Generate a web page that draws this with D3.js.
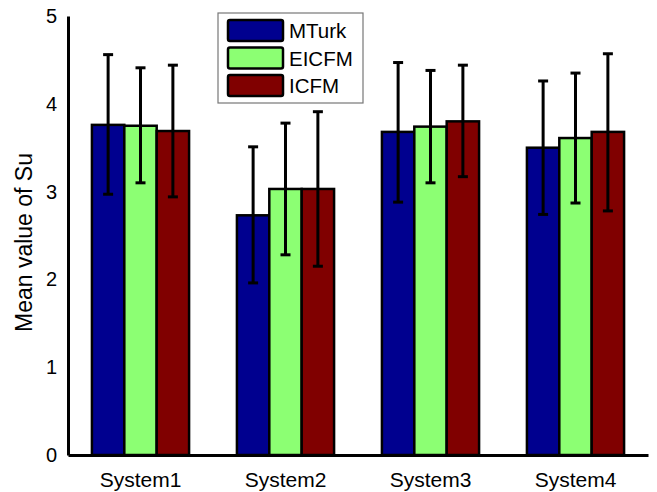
<!DOCTYPE html>
<html>
<head>
<meta charset="utf-8">
<script src="https://cdn.jsdelivr.net/npm/d3@7"></script>
<style>
  body { margin: 0; background: #fff; }
  text { font-family: "Liberation Sans", Arial, sans-serif; }
</style>
</head>
<body>
<div id="chart"></div>
<script>
// --- Data ---
const systems = ["System1", "System2", "System3", "System4"];
const seriesNames = ["MTurk", "EICFM", "ICFM"];
const seriesColors = ["#00008f", "#8cff73", "#800000"];
const mturkMean = [3.76, 2.73, 3.68, 3.50];
const mturkLow = [2.97, 1.96, 2.88, 2.74];
const mturkHigh = [4.56, 3.51, 4.47, 4.26];
const eicfmMean = [3.75, 3.03, 3.74, 3.61];
const eicfmLow = [3.10, 2.28, 3.10, 2.87];
const eicfmHigh = [4.41, 3.78, 4.38, 4.35];
const icfmMean = [3.69, 3.03, 3.80, 3.68];
const icfmLow = [2.94, 2.15, 3.17, 2.78];
const icfmHigh = [4.44, 3.91, 4.44, 4.57];
const yTicks = [0, 1, 2, 3, 4, 5];

const means = [mturkMean, eicfmMean, icfmMean];
const lows = [mturkLow, eicfmLow, icfmLow];
const highs = [mturkHigh, eicfmHigh, icfmHigh];

// --- Dimensions ---
const width = 657;
const height = 492;
const margin = { top: 16, right: 9, bottom: 37, left: 68 };

const svg = d3.select("#chart").append("svg")
  .attr("width", width)
  .attr("height", height);

// --- Scales ---
const x = d3.scaleBand()
  .domain(systems)
  .range([margin.left, width - margin.right])
  .paddingInner(0)
  .paddingOuter(0);

const groupW = x.bandwidth() * 0.67;
const inner = d3.scaleBand()
  .domain(seriesNames)
  .range([0, groupW]);

const y = d3.scaleLinear()
  .domain([0, 5])
  .range([height - margin.bottom, margin.top]);

const rows = [];
systems.forEach((s, i) => {
  seriesNames.forEach((n, j) => {
    rows.push({ system: s, series: n, j, mean: means[j][i], low: lows[j][i], high: highs[j][i] });
  });
});

const barX = d => x(d.system) + (x.bandwidth() - groupW) / 2 + inner(d.series);

// --- Bars ---
svg.append("g")
  .selectAll("rect")
  .data(rows)
  .join("rect")
  .attr("x", barX)
  .attr("y", d => y(d.mean))
  .attr("width", inner.bandwidth())
  .attr("height", d => y(0) - y(d.mean))
  .attr("fill", d => seriesColors[d.j])
  .attr("stroke", "#000")
  .attr("stroke-width", 2.5);

// --- Error bars ---
const err = svg.append("g")
  .attr("stroke", "#000")
  .attr("stroke-width", 3)
  .selectAll("g")
  .data(rows)
  .join("g");

const cx = d => barX(d) + inner.bandwidth() / 2;
err.append("line")
  .attr("x1", cx).attr("x2", cx)
  .attr("y1", d => y(d.low)).attr("y2", d => y(d.high));
err.append("line")
  .attr("x1", d => cx(d) - 5).attr("x2", d => cx(d) + 5)
  .attr("y1", d => y(d.high)).attr("y2", d => y(d.high));
err.append("line")
  .attr("x1", d => cx(d) - 5).attr("x2", d => cx(d) + 5)
  .attr("y1", d => y(d.low)).attr("y2", d => y(d.low));

// --- Axes ---
const yAxis = svg.append("g")
  .attr("transform", `translate(${margin.left},0)`)
  .call(d3.axisLeft(y).tickValues(yTicks).tickSize(0).tickPadding(11).tickFormat(d3.format("d")));
yAxis.select(".domain").attr("stroke", "#000").attr("stroke-width", 3);
yAxis.selectAll("text").attr("font-size", 20).attr("fill", "#000")
  .style("font-family", "Liberation Sans, Arial, sans-serif");

const xAxis = svg.append("g")
  .attr("transform", `translate(0,${y(0)})`)
  .call(d3.axisBottom(x).tickSize(0).tickPadding(17));
xAxis.select(".domain").attr("stroke", "#000").attr("stroke-width", 3);
xAxis.selectAll("text").attr("font-size", 21).attr("fill", "#000")
  .style("font-family", "Liberation Sans, Arial, sans-serif");

// Y label
svg.append("text")
  .attr("transform", `translate(32,${(y(0) + y(5)) / 2 + 7}) rotate(-90)`)
  .attr("text-anchor", "middle")
  .attr("font-size", 23)
  .text("Mean value of Su");

// --- Legend ---
const legend = svg.append("g").attr("transform", "translate(218,13)");
legend.append("rect")
  .attr("width", 145).attr("height", 90)
  .attr("fill", "#fff").attr("stroke", "#777").attr("stroke-width", 1.2);

const item = legend.selectAll("g.item")
  .data(seriesNames)
  .join("g")
  .attr("class", "item")
  .attr("transform", (d, i) => `translate(10,${7 + i * 27.5})`);
item.append("rect")
  .attr("width", 55).attr("height", 21).attr("rx", 2)
  .attr("fill", (d, i) => seriesColors[i])
  .attr("stroke", "#000").attr("stroke-width", 2.5);
item.append("text")
  .attr("x", 61).attr("y", 18)
  .attr("font-size", 20.5)
  .text(d => d);
</script>
</body>
</html>
